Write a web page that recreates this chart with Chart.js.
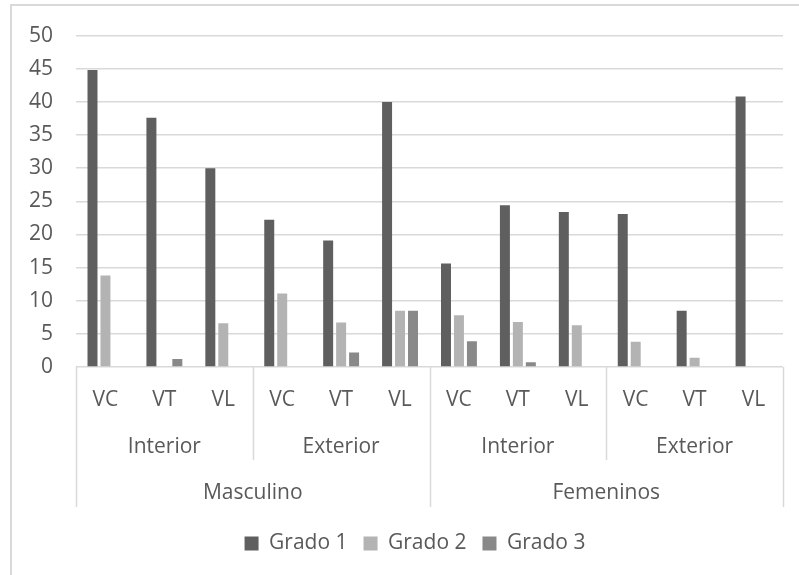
<!DOCTYPE html>
<html>
<head>
<meta charset="utf-8">
<script src="https://cdn.jsdelivr.net/npm/chart.js@4/dist/chart.umd.min.js"></script>
<style>
  html, body { margin: 0; padding: 0; background: #fff; overflow: hidden; width: 799px; height: 575px; }
  #frame { position: absolute; left: 10px; top: 4px; width: 900px; height: 700px; border: 2px solid #d9d9d9; box-sizing: border-box; }
  #c { position: absolute; left: 0; top: 0; }
</style>
</head>
<body>
<div id="frame"></div>
<canvas id="c" width="799" height="575"></canvas>
<script>
// ---- data ----
const subCategories = ['VC','VT','VL','VC','VT','VL','VC','VT','VL','VC','VT','VL'];
const locations = ['Interior','Exterior','Interior','Exterior'];
const sexes = ['Masculino','Femeninos'];
const seriesNames = ['Grado 1','Grado 2','Grado 3'];
const grado1 = [44.8, 37.6, 30.0, 22.2, 19.1, 40.0, 15.6, 24.4, 23.4, 23.1, 8.5, 40.8];
const grado2 = [13.8, 0, 6.6, 11.1, 6.7, 8.5, 7.8, 6.8, 6.3, 3.8, 1.4, 0];
const grado3 = [0, 1.2, 0, 0, 2.2, 8.5, 3.9, 0.7, 0, 0, 0, 0];
const yTicks = [0,5,10,15,20,25,30,35,40,45,50];

const colors = ['#5f5f5f', '#b3b3b3', '#898989'];
const textColor = '#595959';
const lineColor = '#d9d9d9';
const FONT = { family: '"Open Sans", sans-serif', size: 21 };

const separators = {
  id: 'separators',
  afterLayout(chart) {
    const lg = chart.legend;
    if (lg) { lg.left += 18; lg.right += 18; }
  },
  afterDraw(chart) {
    const { ctx } = chart;
    const x = chart.scales.x, x2 = chart.scales.x2, x3 = chart.scales.x3;
    const n = subCategories.length;
    const perLoc = n / locations.length;
    const perSex = n / sexes.length;
    ctx.save();
    ctx.strokeStyle = lineColor;
    ctx.lineWidth = 1.5;
    for (let i = 0; i <= n; i += perLoc) {
      const px = Math.round(x.getPixelForValue(i - 0.5)) + 0.5;
      const outer = (i % perSex === 0);
      const yEnd = outer ? x3.top + 47 : x2.bottom;
      ctx.beginPath();
      ctx.moveTo(px, x.top);
      ctx.lineTo(px, yEnd);
      ctx.stroke();
    }
    ctx.restore();
  }
};

new Chart(document.getElementById('c'), {
  type: 'bar',
  data: {
    labels: subCategories,
    datasets: [
      { label: seriesNames[0], data: grado1, backgroundColor: colors[0], xAxisID: 'x' },
      { label: seriesNames[1], data: grado2, backgroundColor: colors[1], xAxisID: 'x' },
      { label: seriesNames[2], data: grado3, backgroundColor: colors[2], xAxisID: 'x' }
    ]
  },
  options: {
    responsive: false,
    animation: false,
    events: [],
    layout: { padding: { left: 11, right: 16, top: 34, bottom: 11 } },
    datasets: { bar: { categoryPercentage: 0.66, barPercentage: 0.77 } },
    plugins: {
      tooltip: { enabled: false },
      legend: {
        position: 'bottom',
        labels: {
          color: textColor,
          font: FONT,
          boxWidth: 14,
          boxHeight: 14,
          padding: 16
        }
      }
    },
    scales: {
      y: {
        min: 0, max: 50,
        afterBuildTicks: s => { s.ticks = yTicks.map(v => ({ value: v })); },
        afterFit: s => { s.width = 65; },
        ticks: { color: textColor, font: FONT, padding: 23 },
        grid: { color: lineColor, lineWidth: 1.5, drawTicks: false },
        border: { display: false }
      },
      x: {
        position: 'bottom', weight: 0,
        offset: true,
        afterFit: s => { s.height = 47; },
        ticks: { color: textColor, font: FONT, padding: 12, maxRotation: 0, autoSkip: false },
        grid: { display: false },
        border: { display: false }
      },
      x2: {
        type: 'category', position: 'bottom', weight: 1,
        labels: locations, offset: true,
        afterFit: s => { s.height = 46; },
        ticks: { color: textColor, font: FONT, padding: 12, maxRotation: 0, autoSkip: false },
        grid: { display: false },
        border: { display: false }
      },
      x3: {
        type: 'category', position: 'bottom', weight: 2,
        labels: sexes, offset: true,
        afterFit: s => { s.height = 57; },
        ticks: { color: textColor, font: FONT, padding: 12, maxRotation: 0, autoSkip: false },
        grid: { display: false },
        border: { display: false }
      }
    }
  },
  plugins: [separators]
});
</script>
</body>
</html>
